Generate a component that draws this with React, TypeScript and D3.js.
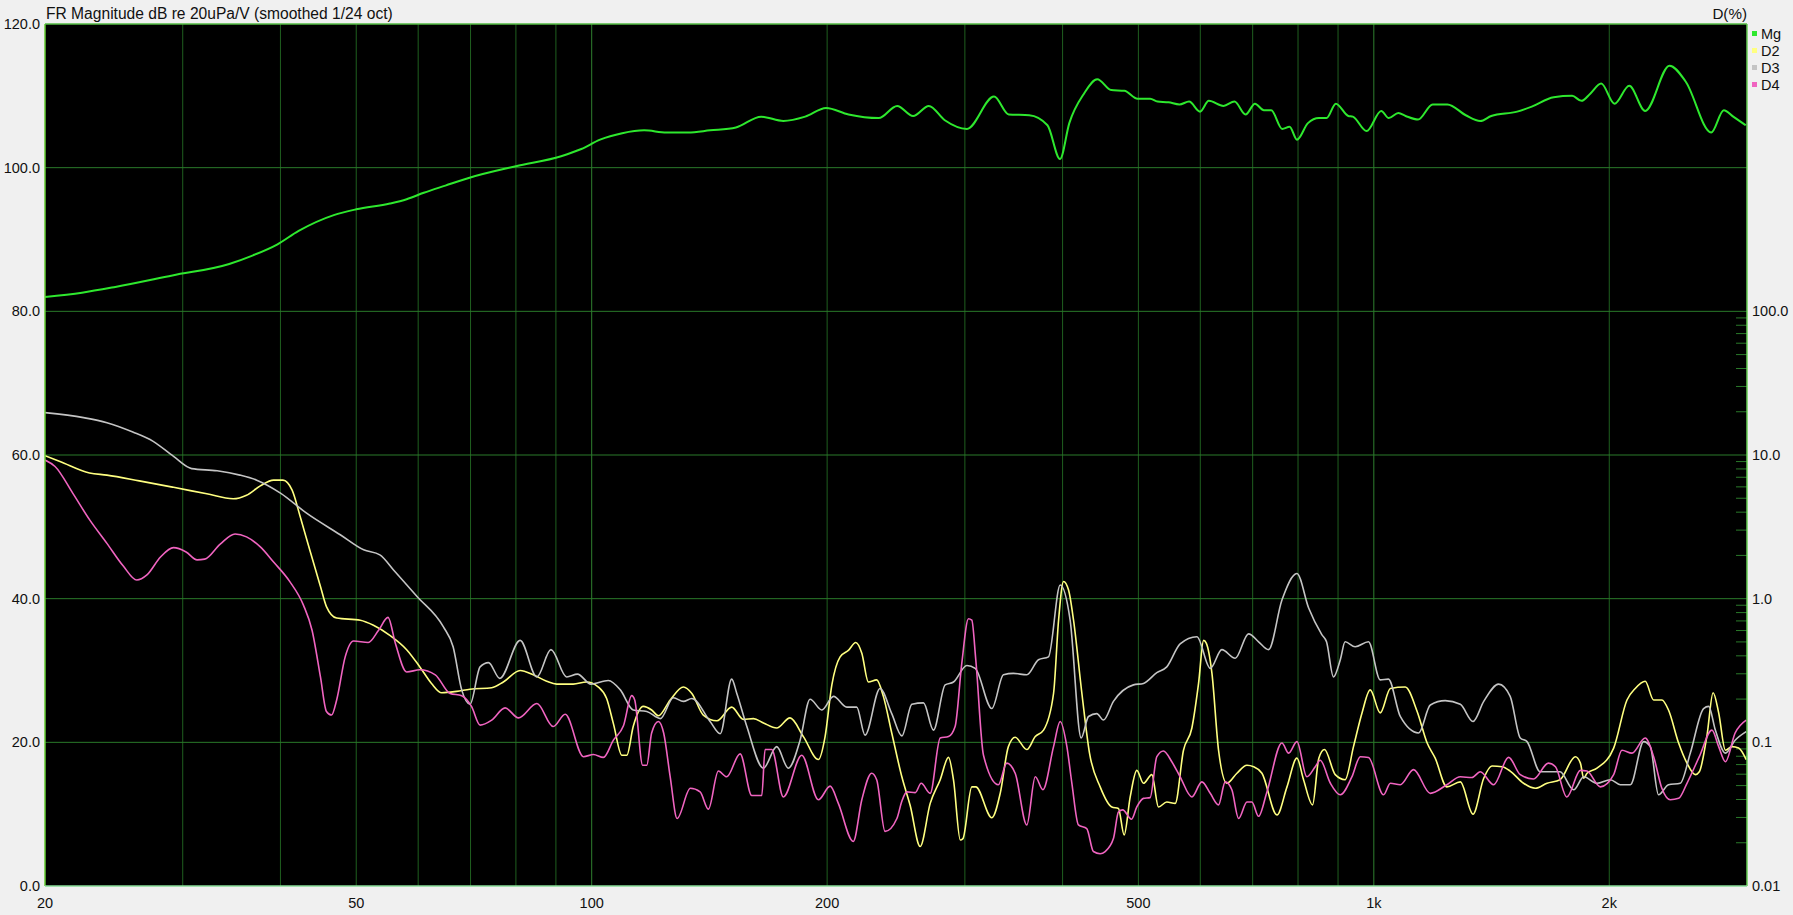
import React from "react";
import * as d3 from "d3";

type Pt = [number, number];

const xTickLabels: [number, string][] = [[20, "20"], [50, "50"], [100, "100"], [200, "200"], [500, "500"], [1000, "1k"], [2000, "2k"]];
const xGridFreqs = [30, 40, 50, 60, 70, 80, 90, 100, 200, 300, 400, 500, 600, 700, 800, 900, 1000, 2000];
const yLeftTicks = [0, 20, 40, 60, 80, 100, 120];
const yRightLabels: [number, string][] = [[100, "100.0"], [10, "10.0"], [1, "1.0"], [0.1, "0.1"], [0.01, "0.01"]];
const legendNames = ["Mg", "D2", "D3", "D4"];

const mgData: Pt[] = [[20,82.0],[22.3,82.6],[24.6,83.4],[29.1,85.0],[34.4,86.6],[36.9,87.8],[39.6,89.3],[42.2,91.2],[46.8,93.4],[50,94.2],[55.2,95.0],[58,95.6],[61,96.5],[65,97.5],[69.8,98.6],[80,100.2],[91.4,101.6],[97,102.6],[102.5,103.9],[109.4,104.8],[116.7,105.2],[124.6,104.9],[132.8,104.9],[141.7,105.2],[152.9,105.6],[164.7,107.1],[175.8,106.5],[187.5,107.1],[199.4,108.3],[213,107.4],[232.8,106.9],[245.8,108.6],[257.6,107.2],[269.8,108.6],[282.8,106.6],[301.8,105.4],[326.9,109.9],[341.4,107.4],[362.6,107.3],[382.6,105.9],[397,101.2],[408,106.2],[426,110.3],[443,112.3],[461.5,110.8],[479.8,110.7],[498.8,109.6],[517.6,109.6],[528.9,109.2],[546.3,109.1],[564.3,108.8],[580.5,109.2],[599.5,107.8],[615.2,109.3],[642.4,108.6],[663.5,109.2],[685.5,107.4],[704.8,108.9],[723.5,108.0],[739.3,108.0],[763.6,105.4],[780.4,105.7],[797.5,103.9],[823.7,106.2],[850.8,106.9],[870,106.9],[894.2,108.9],[927.6,107.2],[940,107.1],[979,105.1],[1022,107.9],[1045,106.9],[1075,107.6],[1098,107.2],[1139,106.7],[1189,108.8],[1242,108.8],[1311,107.3],[1368,106.5],[1413,107.2],[1525,107.8],[1592,108.5],[1698,109.8],[1793,110.0],[1843,109.3],[1891,110.3],[1953,111.7],[2031,108.9],[2121,111.4],[2223,107.9],[2388,114.2],[2504,112.0],[2700,104.9],[2802,108.0],[2881,107.1],[2989,105.9]];

const d2Data: Pt[] = [[20,59.9],[20.9,59.1],[22.8,57.5],[24,57.2],[26.4,56.4],[29.2,55.5],[32.2,54.6],[34.8,53.9],[36.2,54.4],[37.7,55.7],[39.2,56.5],[40.3,56.5],[41.4,55.1],[42.4,51.4],[43.6,46.8],[45,41.7],[45.8,38.9],[47.2,37.3],[50.6,37.0],[52.6,36.3],[55.2,34.9],[58,32.9],[60.3,30.5],[62.4,28.2],[64.3,26.9],[67.2,27.1],[69.9,27.4],[74.5,27.6],[77.1,28.4],[81,30.0],[84.2,29.4],[87.6,28.5],[90.2,28.1],[94.7,28.1],[98.5,28.4],[102,27.7],[104.5,26.1],[106.6,22.6],[109.3,18.2],[110.9,18.2],[113,22.2],[116.4,25.0],[119.3,24.5],[121.7,23.7],[126,25.9],[131,27.7],[134.3,26.8],[138.9,23.8],[144.6,23.0],[151,24.9],[156.3,23.2],[161,23.3],[165.8,22.7],[172.4,22.0],[179.3,23.4],[186.5,20.8],[194.9,17.6],[198.8,20.8],[202.8,28.0],[207.8,31.9],[212.9,32.8],[217.6,33.9],[221.5,32.4],[225.8,28.4],[231.4,28.7],[236,26.4],[241.9,21.3],[249.2,15.2],[255.4,11.2],[263,5.5],[270.9,11.5],[279,14.8],[285.9,17.9],[290.1,14.8],[296,6.4],[298.3,6.6],[306.2,13.8],[309.8,13.8],[324.8,9.5],[332.9,12.9],[341,19.4],[347.9,20.7],[360,19.0],[369.1,20.8],[378.2,21.7],[389.5,26.8],[395.3,37.0],[401.1,42.4],[407.1,41.2],[413.1,37.0],[423.4,26.8],[433,18.5],[446.8,13.8],[462.4,11.0],[471.5,10.8],[479.5,7.1],[488.1,12.4],[497.7,16.1],[507.5,14.3],[520.2,15.5],[530.5,11.0],[543.6,11.7],[557.2,11.5],[571,18.9],[585.3,22.0],[596.9,28.2],[605.8,34.2],[610.6,33.8],[620.9,29.6],[633.1,18.9],[648.9,14.3],[668.3,15.7],[688.3,16.8],[702,16.6],[719.4,15.7],[751.9,9.9],[774.4,13.8],[797.4,17.8],[813.1,14.8],[834.9,11.3],[850.5,17.8],[864.8,19.0],[892.6,15.5],[919,14.8],[941.9,19.4],[965.4,24.0],[989.4,27.3],[1019,24.1],[1050,27.5],[1097,27.7],[1136,24.3],[1170,19.9],[1198,17.8],[1240,13.8],[1290,14.5],[1339,10.0],[1382,15.0],[1416,16.7],[1459,16.6],[1494,16.0],[1554,14.3],[1609,13.6],[1665,14.3],[1730,14.8],[1810,18.0],[1837,17.1],[1855,15.0],[1873,15.7],[1929,16.4],[2026,19.2],[2107,25.9],[2159,27.5],[2223,28.5],[2279,25.9],[2335,25.9],[2381,24.5],[2453,19.9],[2514,17.1],[2577,15.5],[2607,15.9],[2667,21.0],[2715,26.9],[2760,24.1],[2815,18.9],[2870,19.4],[2927,19.2],[2993,17.6]];

const d3Data: Pt[] = [[20,65.9],[22.4,65.2],[24,64.5],[25.9,63.2],[27.5,61.9],[29.2,59.8],[30.8,58.1],[33.2,57.8],[35.5,57.2],[37.3,56.5],[40,54.7],[43.2,51.9],[47.7,48.9],[51.1,46.8],[53.6,46.1],[55.8,44.0],[59.8,40.3],[64.6,36.1],[66.5,33.3],[68.2,27.3],[69.9,25.3],[72,30.5],[73.8,31.1],[76.3,28.9],[81,34.2],[85.1,29.1],[88.7,32.9],[92.9,29.1],[95.9,29.5],[99.8,28.1],[105,28.6],[108.8,27.3],[113,24.5],[117.6,24.3],[122.4,23.3],[127.2,26.2],[131,25.7],[134.3,26.1],[141.7,22.9],[146,21.2],[151,28.8],[153.3,26.8],[157.9,22.2],[165.8,16.4],[172.4,19.4],[178.4,16.4],[184.7,20.3],[190.2,26.0],[196.9,24.5],[203.8,26.4],[211.9,24.9],[218.2,24.9],[223.6,21.0],[233.7,27.5],[241.9,24.0],[249.2,20.9],[256.7,25.3],[265.6,25.5],[273.5,21.7],[283.1,28.0],[290.1,28.4],[301.8,30.7],[309.3,30.3],[324.8,24.7],[336.1,29.4],[346.1,29.6],[360,29.4],[372.6,31.5],[383.7,31.9],[397.2,41.9],[409,37.0],[422.5,20.6],[431.7,23.6],[442.4,24.0],[451.2,23.1],[464.6,25.7],[492.8,28.0],[507.5,28.2],[527.9,29.7],[543.6,30.5],[565.4,33.7],[594,34.7],[617.8,30.3],[639.3,32.9],[664.9,31.7],[691.6,35.1],[712.3,34.0],[733.5,32.9],[763,39.8],[797.4,43.5],[825.4,38.7],[858,35.0],[870,34.0],[888,29.1],[906,31.5],[919,34.0],[946.5,33.3],[984.4,34.0],[1019,28.7],[1044,28.8],[1081,23.6],[1141,21.3],[1181,25.2],[1234,25.8],[1290,25.3],[1339,22.9],[1382,25.7],[1444,28.1],[1494,26.4],[1539,20.6],[1570,20.1],[1632,15.9],[1730,15.9],[1801,13.4],[1855,15.2],[1929,14.3],[2006,14.8],[2066,14.1],[2128,14.1],[2213,20.1],[2257,19.4],[2312,12.7],[2381,14.1],[2465,14.3],[2539,18.5],[2640,24.7],[2680,25.0],[2733,21.7],[2815,18.5],[2897,20.3],[2993,21.5]];

const d4Data: Pt[] = [[20,59.3],[20.6,58.4],[21.7,54.7],[22.8,51.0],[24,47.7],[25.2,44.5],[26.2,42.6],[27,43.3],[28.1,45.8],[29.2,47.1],[30.3,46.5],[31.3,45.4],[32,45.5],[33.5,47.6],[35,49.0],[36.2,48.6],[37.7,47.2],[39.2,45.1],[41.1,42.4],[42.8,39.1],[43.9,35.6],[45,29.1],[45.8,24.3],[46.5,23.8],[47.2,25.9],[48.4,31.9],[49.6,34.1],[51.8,33.9],[53.4,35.6],[54.9,37.4],[56.1,33.8],[58,29.8],[60.3,30.1],[63.1,29.4],[65.9,26.8],[68.2,26.5],[70.2,25.0],[72,22.4],[74.5,23.1],[77.5,24.8],[80.6,23.4],[85.1,25.4],[89.3,22.2],[92.5,23.9],[97.6,18.0],[100.5,18.3],[103.5,17.9],[106.6,20.3],[109.8,22.3],[112.5,26.5],[113.5,25.9],[116.2,16.8],[117.6,16.8],[119.3,21.3],[121.7,22.9],[123.6,21.3],[126,15.2],[128.6,9.4],[133.7,13.6],[137.6,13.1],[141,10.7],[145.2,16.0],[148.8,15.2],[154.8,18.4],[160.2,12.6],[165,12.6],[166.6,19.0],[169.9,19.0],[175.8,12.4],[185.6,18.2],[194.9,12.0],[201.8,13.9],[206.7,11.5],[216,6.2],[221.5,12.0],[228,15.7],[231.4,14.8],[237.2,7.6],[245.6,9.4],[249.2,11.8],[252.9,13.1],[259.2,13.0],[263.8,14.3],[270.9,12.9],[279,20.6],[285.9,20.8],[291.5,22.2],[297.3,31.0],[303.2,37.2],[306.2,37.0],[309.8,31.5],[316.9,18.2],[331.1,14.1],[339.4,17.1],[347.9,15.7],[360,8.5],[369.1,15.2],[377.5,13.4],[389.5,19.4],[397.2,22.9],[405.1,19.4],[411.1,14.3],[419.1,8.5],[429.5,8.0],[438,4.8],[446.8,4.5],[453.4,4.8],[464.6,6.6],[471.5,10.3],[477.4,10.6],[490,9.3],[497.7,11.0],[507.5,12.2],[517.6,12.3],[527.9,18.0],[538.3,18.8],[551.7,17.3],[565.4,15.2],[585.3,12.4],[602.8,14.5],[617.8,12.9],[633.1,11.3],[645.6,14.5],[658.4,13.4],[671.6,9.4],[688.3,11.7],[698.4,11.7],[712.3,9.7],[730,13.1],[763,19.9],[778.2,18.5],[797.4,20.1],[821.1,15.2],[841.6,16.6],[854,17.5],[880,14.3],[906,12.7],[937.4,15.2],[961,18.0],[984.4,17.9],[1029,12.7],[1050,14.3],[1081,14.1],[1124,16.2],[1181,12.9],[1240,14.1],[1290,15.2],[1335,15.1],[1368,15.9],[1423,14.1],[1487,17.9],[1539,15.5],[1600,14.9],[1672,17.1],[1707,16.6],[1765,12.4],[1837,16.1],[1873,16.0],[1948,13.8],[2026,15.5],[2076,18.9],[2138,18.5],[2223,20.6],[2279,18.0],[2335,13.6],[2393,12.0],[2453,12.2],[2514,14.3],[2607,18.0],[2706,21.7],[2760,19.4],[2815,17.3],[2897,21.3],[2993,23.1]];

const W = 1793, H = 915;
const L = 45, R = 1747, T = 24, B = 886;
const FONT = "'Liberation Sans', Arial, sans-serif";

export default function App() {
  const x = d3.scaleLog().domain([20, 3000]).range([L, R]);
  const y = d3.scaleLinear().domain([0, 120]).range([B, T]);
  const yR = d3.scaleLog().domain([0.01, 10000]).range([B, T]);
  const line = d3.line<Pt>().x(d => x(d[0])).y(d => y(d[1])).curve(d3.curveMonotoneX);

  const series = [
    { name: "Mg", data: mgData, color: "#2ee82e", w: 2 },
    { name: "D2", data: d2Data, color: "#ffff80", w: 1.6 },
    { name: "D3", data: d3Data, color: "#c4c4c4", w: 1.6 },
    { name: "D4", data: d4Data, color: "#f064c0", w: 1.6 },
  ];

  const minorTicks: number[] = [];
  [0.01, 0.1, 1, 10].forEach(dec => { for (let m = 2; m <= 9; m++) minorTicks.push(dec * m); });

  return (
    <div style={{ position: "fixed", left: 0, top: 0, width: W, height: H, background: "#f0f0f0" }}>
      <svg width={W} height={H} style={{ display: "block", fontFamily: FONT }}>
        <defs>
          <clipPath id="plotclip"><rect x={L} y={T} width={R - L} height={B - T} /></clipPath>
        </defs>
        <rect x={L} y={T} width={R - L} height={B - T} fill="#000" />
        {xGridFreqs.map(f => (
          <line key={"vx" + f} x1={x(f)} x2={x(f)} y1={T} y2={B}
            stroke={f === 100 || f === 1000 ? "#2f7f2f" : "#1f5f1f"} strokeWidth={1} />
        ))}
        {yLeftTicks.filter(v => v > 0 && v < 120).map(v => (
          <line key={"hy" + v} x1={L} x2={R} y1={y(v)} y2={y(v)} stroke="#2a7a2a" strokeWidth={1} />
        ))}
        {minorTicks.map(p => (
          <line key={"mt" + p} x1={R - 11} x2={R} y1={yR(p)} y2={yR(p)} stroke="#2a7a2a" strokeWidth={1} />
        ))}
        <g clipPath="url(#plotclip)">
          {series.map(s => (
            <path key={s.name} d={line(s.data) || ""} fill="none" stroke={s.color} strokeWidth={s.w} strokeLinejoin="round" />
          ))}
        </g>
        <line x1={L} x2={L} y1={T} y2={B} stroke="#66cc33" strokeWidth={1.5} />
        <line x1={L} x2={R} y1={T} y2={T} stroke="#55bb44" strokeWidth={1.5} />
        <line x1={R} x2={R} y1={T} y2={B} stroke="#66cc55" strokeWidth={1.5} />
        <line x1={L} x2={R} y1={B} y2={B} stroke="#88dd99" strokeWidth={1.5} />

        <text x={46} y={19} fontSize={15.6} fill="#111">FR Magnitude dB re 20uPa/V (smoothed 1/24 oct)</text>
        <text x={1747} y={19} fontSize={15.2} fill="#111" textAnchor="end">D(%)</text>

        {yLeftTicks.map(v => (
          <text key={"yl" + v} x={40} y={y(v)} dy="0.35em" fontSize={14.5} fill="#111" textAnchor="end">{v.toFixed(1)}</text>
        ))}
        {yRightLabels.map(([p, s]) => (
          <text key={"yr" + s} x={1752} y={yR(p)} dy="0.35em" fontSize={14.5} fill="#111">{s}</text>
        ))}
        {xTickLabels.map(([f, s]) => (
          <text key={"xl" + s} x={x(f)} y={908} fontSize={14.5} fill="#111" textAnchor="middle">{s}</text>
        ))}
        {series.map((s, i) => (
          <g key={"lg" + s.name}>
            <rect x={1752} y={31 + i * 17} width={5} height={5} fill={s.color} />
            <text x={1761} y={34 + i * 17} dy="0.35em" fontSize={14.5} fill="#111">{legendNames[i]}</text>
          </g>
        ))}
      </svg>
    </div>
  );
}
